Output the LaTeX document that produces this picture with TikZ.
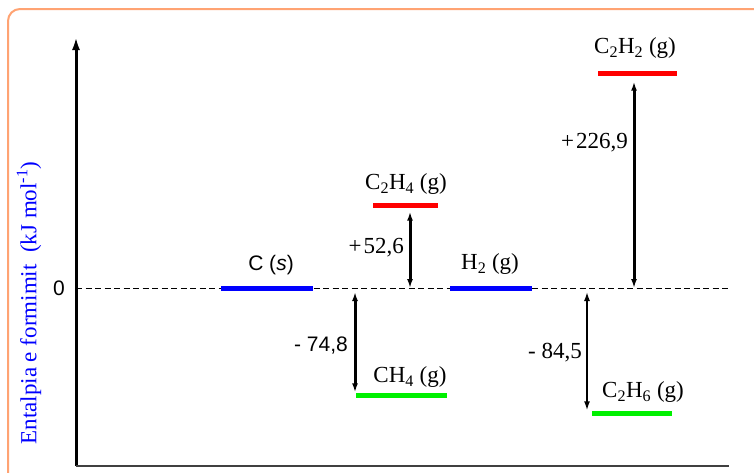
\documentclass[tikz,border=0pt]{standalone}
\usepackage{fontspec}
\setmainfont{Liberation Serif}
\newfontfamily\sansfnt{Liberation Sans}
\usepackage{tikz}
\usetikzlibrary{arrows.meta}
\definecolor{frameorange}{RGB}{255,163,115}
\definecolor{levelblue}{RGB}{0,0,255}
\definecolor{levelred}{RGB}{255,0,0}
\definecolor{levelgreen}{RGB}{0,240,0}
\tikzset{
  font={\fontsize{23pt}{26pt}\selectfont},
  tip/.tip={Latex[length=9pt,width=6pt]}}

\begin{document}
\begin{tikzpicture}[x=1pt,y=1pt]
\tikzstyle{every node}+=[inner sep=0pt]
\tikzstyle{level}=[draw=none,minimum height=5pt,minimum width=80pt]
\tikzstyle{dh}=[black,line width=3pt]
\useasboundingbox (0,0) rectangle (754,-472);
\begin{scope}
\clip (0,0) rectangle (754,-472);
\draw [frameorange,line width=2pt,rounded corners=12pt] (8,-9) rectangle (790,-500);
\end{scope}
\coordinate (o) at (76,-466);
\coordinate (ytop) at (76,-37);
\coordinate (xend) at (729,-466);
\coordinate (zl) at (76,-288);
\coordinate (zr) at (729,-288);
\draw [black,line width=3pt,-{Latex[length=13pt,width=8pt]}] (o) -- (ytop);
\draw [black!75,line width=2pt] (o) -- (xend);
\draw [black,dash pattern=on 6pt off 3.5pt,line width=1pt] (zl) -- (zr);
\node (zero) at (59,-288) {\sansfnt\fontsize{21pt}{24pt}\selectfont 0};
\node [levelblue,rotate=90] (ylab) at (29,-303) {Entalpia e formimit \ (kJ mol\textsuperscript{-1})};
\node [level,fill=levelblue,minimum width=92pt] (cs) at (267,-288) {};
\node [level,fill=levelblue,minimum width=82pt] (h2) at (491,-288) {};
\node [level,fill=levelred,minimum width=65pt] (c2h4) at (405.5,-205) {};
\node [level,fill=levelgreen,minimum width=91pt] (ch4) at (401.5,-395) {};
\node [level,fill=levelred,minimum width=79pt] (c2h2) at (637.5,-73) {};
\node [level,fill=levelgreen,minimum width=80pt] (c2h6) at (632,-413) {};
\node (lcs) at (271,-265) {\sansfnt\fontsize{21pt}{24pt}\selectfont C (\textit{s})};
\node (lh2) at (490,-264) {H\textsubscript{2} (g)};
\node (lc2h4) at (406,-184) {C\textsubscript{2}H\textsubscript{4} (g)};
\node (lch4) at (410,-377) {CH\textsubscript{4} (g)};
\node (lc2h2) at (635,-48) {C\textsubscript{2}H\textsubscript{2} (g)};
\node (lc2h6) at (643,-392) {C\textsubscript{2}H\textsubscript{6} (g)};
\node [anchor=east] (v1) at (404,-248) {+\kern2pt52,6};
\node [anchor=east] (v2) at (348,-346) {\sansfnt\fontsize{21pt}{24pt}\selectfont - 74,8};
\node [anchor=east] (v3) at (628,-143) {+\kern2pt226,9};
\node [anchor=east] (v4) at (582,-353) {- 84,5};
\coordinate (z1) at (410,-288);
\coordinate (z2) at (355,-288);
\coordinate (z3) at (634,-288);
\coordinate (z4) at (587,-288);
\draw [dh,tip-tip,shorten >=4pt] (z1) -- (z1 |- c2h4.south);
\draw [dh,tip-tip,shorten <=4pt] (z2) -- (z2 |- ch4.north);
\draw [dh,tip-tip,shorten >=6pt] (z3) -- (z3 |- c2h2.south);
\draw [dh,tip-tip,line width=1.5pt,shorten <=4pt] (z4) -- (z4 |- c2h6.north);
\end{tikzpicture}
\end{document}
